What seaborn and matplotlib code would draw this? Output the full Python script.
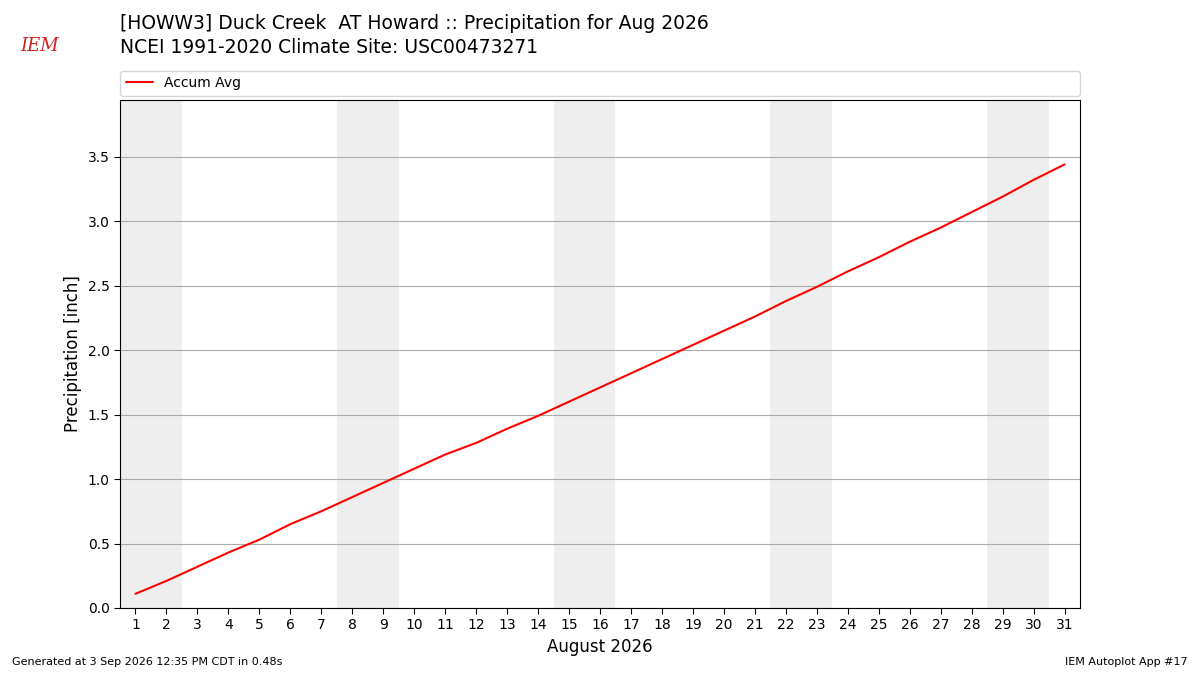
import matplotlib
matplotlib.use("Agg")
import matplotlib.pyplot as plt
import seaborn as sns
import pandas as pd

days = list(range(1, 32))
accum_avg = [0.11, 0.21, 0.32, 0.43, 0.53, 0.65, 0.75, 0.86, 0.97, 1.08,
             1.19, 1.28, 1.39, 1.49, 1.60, 1.71, 1.82, 1.93, 2.04, 2.15,
             2.26, 2.38, 2.49, 2.61, 2.72, 2.84, 2.95, 3.07, 3.19, 3.32, 3.44]
weekends = [(1, 2), (8, 9), (15, 16), (22, 23), (29, 30)]

sns.set_style("white")
plt.rcParams['font.family'] = ['DejaVu Sans']
plt.rcParams['text.color'] = 'black'
plt.rcParams['axes.labelcolor'] = 'black'
plt.rcParams['xtick.color'] = 'black'
plt.rcParams['ytick.color'] = 'black'

df = pd.DataFrame({'day': days, 'precip': accum_avg})

fig = plt.figure(figsize=(12, 6.75), dpi=100)
ax = fig.add_axes([0.1, 0.0993, 0.8, 0.7526])

for start, end in weekends:
    ax.axvspan(start - 0.5, end + 0.5, color='#eeeeee', zorder=0, lw=0)

sns.lineplot(data=df, x='day', y='precip', color='red', lw=1.5, label='Accum Avg', ax=ax)

ax.set_xlim(0.5, 31.5)
ax.set_ylim(0, 3.94)
ax.set_xticks(days)
ax.set_yticks([0, 0.5, 1, 1.5, 2, 2.5, 3, 3.5])
ax.yaxis.grid(True, color='#aaaaaa', lw=0.8)
ax.set_axisbelow(True)
ax.tick_params(axis='both', which='both', direction='out', length=4, bottom=True, left=True, labelsize=10)
for s in ax.spines.values():
    s.set_color('black')
    s.set_linewidth(0.8)
ax.set_xlabel('August 2026', fontsize=12)
ax.set_ylabel('Precipitation [inch]', fontsize=12)

ax.legend(loc='lower left', bbox_to_anchor=(0, 1.008, 1, 0.05), mode='expand',
          ncol=1, fontsize=10, frameon=True, borderaxespad=0)

fig.text(0.1, 0.965, '[HOWW3] Duck Creek  AT Howard :: Precipitation for Aug 2026',
         fontsize=13.5, va='center')
fig.text(0.1, 0.93, 'NCEI 1991-2020 Climate Site: USC00473271', fontsize=13.5, va='center')
fig.text(0.017, 0.925, 'IEM', fontsize=13, color='#cc2222', style='italic', family='serif')
fig.text(0.01, 0.015, 'Generated at 3 Sep 2026 12:35 PM CDT in 0.48s', fontsize=8)
fig.text(0.99, 0.015, 'IEM Autoplot App #17', fontsize=8, ha='right')

fig.savefig('out.png', dpi=100)
